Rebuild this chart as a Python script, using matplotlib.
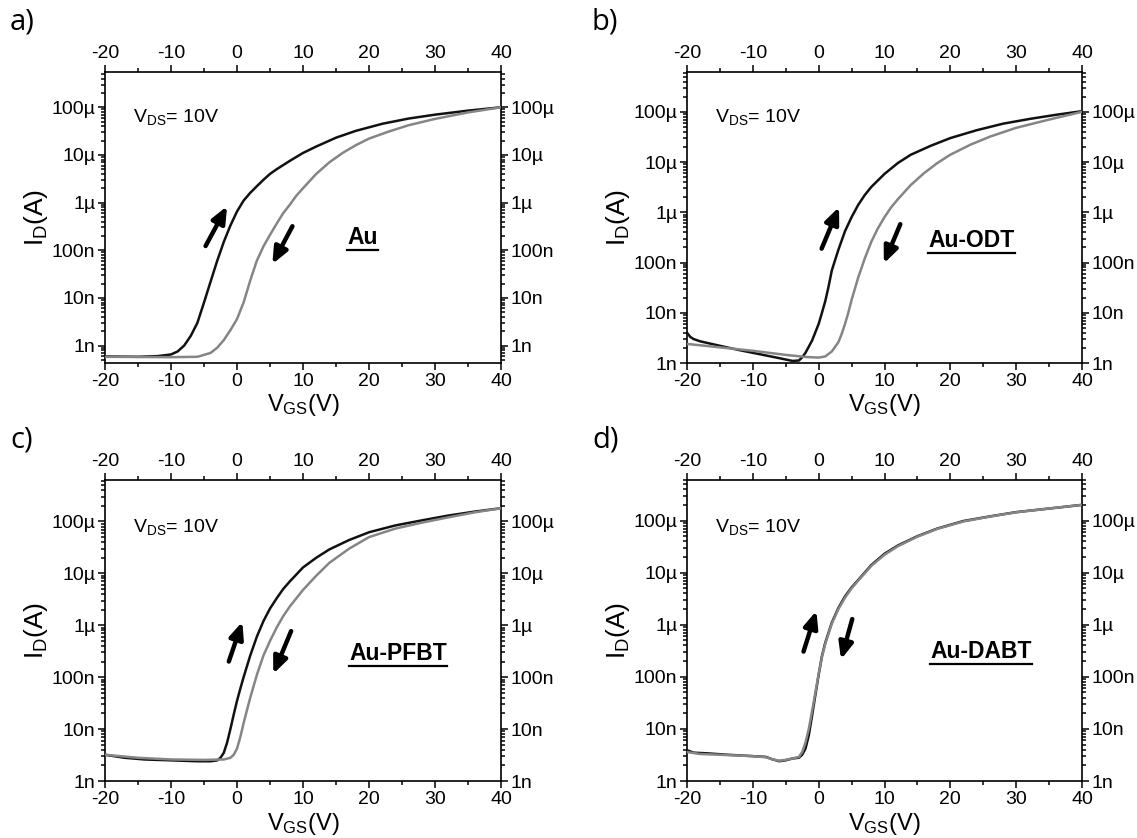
import numpy as np
import matplotlib
matplotlib.use("Agg")
import matplotlib.pyplot as plt
from matplotlib.ticker import FixedLocator, LogLocator, NullFormatter, MultipleLocator
from matplotlib.lines import Line2D

plt.rcParams['font.family'] = ['Liberation Sans', 'DejaVu Sans']
plt.rcParams['mathtext.fontset'] = 'custom'
plt.rcParams['mathtext.rm'] = 'Liberation Sans'
plt.rcParams['mathtext.it'] = 'Liberation Sans:italic'
plt.rcParams['mathtext.bf'] = 'Liberation Sans:bold'

# ---------------- data ----------------
# Panel a) Au : forward (black) and reverse (gray) sweeps
a_fwd_v = [-20, -15, -12, -10, -9, -8, -7, -6, -5, -4, -3, -2, -1, 0, 1, 2, 3, 4, 5, 6, 8, 10, 12, 15, 18, 22,
           26, 30, 35, 40]
a_fwd_i = [5.9e-10, 5.8e-10, 6.0e-10, 6.5e-10, 7.5e-10, 1.0e-9, 1.6e-9, 3.0e-9, 8.0e-9, 2.2e-8, 6.0e-8, 1.5e-7,
           3.3e-7, 6.5e-7, 1.1e-6, 1.6e-6, 2.2e-6, 3.0e-6, 4.0e-6, 5.0e-6, 7.5e-6, 1.1e-5, 1.5e-5, 2.3e-5,
           3.2e-5, 4.5e-5, 5.8e-5, 7.0e-5, 8.5e-5, 1.0e-4]
a_rev_v = [-20, -10, -6, -4, -3, -2, -1, 0, 1, 2, 3, 4, 5, 6, 7, 8, 9, 10, 12, 14, 16, 18, 20, 23, 26, 30,
           35, 40]
a_rev_i = [5.8e-10, 5.7e-10, 5.8e-10, 7.0e-10, 9.0e-10, 1.3e-9, 2.1e-9, 3.6e-9, 8.0e-9, 2.3e-8, 6.0e-8, 1.2e-7,
           2.1e-7, 3.6e-7, 6.0e-7, 9.0e-7, 1.4e-6, 2.0e-6, 4.0e-6, 7.0e-6, 1.1e-5, 1.6e-5, 2.2e-5, 3.1e-5,
           4.2e-5, 5.7e-5, 7.8e-5, 1.0e-4]

# Panel b) Au-ODT
b_fwd_v = [-20, -19.5, -19, -18, -15, -12, -9, -6, -4, -3, -2.5, -2, -1, 0, 0.5, 1, 1.5, 2, 3, 4, 5, 6, 7, 8,
           10, 12, 14, 17, 20, 24, 28, 32, 36, 40]
b_fwd_i = [4.0e-9, 3.3e-9, 3.0e-9, 2.7e-9, 2.2e-9, 1.8e-9, 1.5e-9, 1.25e-9, 1.1e-9, 1.12e-9, 1.3e-9, 1.6e-9,
           2.8e-9, 6.0e-9, 1.0e-8, 1.7e-8, 3.3e-8, 7.0e-8, 1.8e-7, 4.2e-7, 8.0e-7, 1.4e-6, 2.2e-6, 3.2e-6,
           5.8e-6, 9.5e-6, 1.4e-5, 2.1e-5, 3.0e-5, 4.3e-5, 5.8e-5, 7.2e-5, 8.7e-5, 1.03e-4]
b_rev_v = [-20, -15, -10, -5, -2, 0, 1, 2, 3, 3.5, 4, 4.5, 5, 5.5, 6, 7, 8, 9, 10, 11, 12, 14, 16, 18, 20, 23,
           26, 30, 35, 40]
b_rev_i = [2.4e-9, 2.05e-9, 1.75e-9, 1.45e-9, 1.32e-9, 1.28e-9, 1.35e-9, 1.7e-9, 2.6e-9, 3.8e-9, 6.0e-9, 1.0e-8,
           1.8e-8, 3.0e-8, 5.0e-8, 1.2e-7, 2.6e-7, 4.8e-7, 8.0e-7, 1.25e-6, 1.8e-6, 3.5e-6, 6.0e-6, 9.5e-6,
           1.4e-5, 2.2e-5, 3.2e-5, 4.8e-5, 7.0e-5, 1.0e-4]

# Panel c) Au-PFBT
c_fwd_v = [-20, -17, -14, -10, -6, -4, -3, -2.5, -2, -1.5, -1, -0.5, 0, 0.5, 1, 2, 3, 4, 5, 6, 7, 8, 10, 12,
           14, 17, 20, 24, 28, 32, 36, 40]
c_fwd_i = [3.2e-9, 2.8e-9, 2.6e-9, 2.5e-9, 2.4e-9, 2.4e-9, 2.5e-9, 2.8e-9, 3.5e-9, 5.5e-9, 1.0e-8, 1.9e-8,
           3.5e-8, 6.0e-8, 1.0e-7, 2.6e-7, 6.0e-7, 1.2e-6, 2.1e-6, 3.3e-6, 5.0e-6, 7.0e-6, 1.3e-5, 2.0e-5,
           2.9e-5, 4.4e-5, 6.2e-5, 8.4e-5, 1.05e-4, 1.3e-4, 1.55e-4, 1.8e-4]
c_rev_v = [-20, -15, -10, -5, -2, -1, -0.5, 0, 0.5, 1, 1.5, 2, 3, 4, 5, 6, 7, 8, 10, 12, 14, 17, 20, 24, 28,
           32, 36, 40]
c_rev_i = [3.2e-9, 2.8e-9, 2.6e-9, 2.55e-9, 2.6e-9, 2.8e-9, 3.2e-9, 4.2e-9, 7.0e-9, 1.3e-8, 2.3e-8, 4.0e-8,
           1.1e-7, 2.6e-7, 5.0e-7, 9.0e-7, 1.5e-6, 2.3e-6, 4.8e-6, 9.0e-6, 1.6e-5, 3.0e-5, 5.0e-5, 7.3e-5,
           9.5e-5, 1.2e-4, 1.5e-4, 1.8e-4]

# Panel d) Au-DABT
d_fwd_v = [-20, -19, -17, -14, -10, -8, -7, -6, -5, -4, -3, -2.5, -2, -1.5, -1, -0.5, 0, 0.5, 1, 2, 3, 4, 5,
           6, 8, 10, 12, 15, 18, 22, 26, 30, 35, 40]
d_fwd_i = [3.9e-9, 3.5e-9, 3.4e-9, 3.2e-9, 3.0e-9, 2.9e-9, 2.6e-9, 2.4e-9, 2.5e-9, 2.7e-9, 2.8e-9, 3.2e-9,
           4.2e-9, 7.5e-9, 1.8e-8, 4.5e-8, 1.1e-7, 2.5e-7, 4.5e-7, 1.1e-6, 2.1e-6, 3.5e-6, 5.2e-6, 7.2e-6,
           1.4e-5, 2.3e-5, 3.3e-5, 5.0e-5, 7.0e-5, 9.8e-5, 1.2e-4, 1.45e-4, 1.7e-4, 2.0e-4]
d_rev_v = [-20, -18, -14, -10, -8, -7, -6, -5, -4, -3, -2.5, -2, -1.5, -1, -0.5, 0, 0.5, 1, 2, 3, 4, 5, 6, 8,
           10, 12, 15, 18, 22, 26, 30, 35, 40]
d_rev_i = [3.6e-9, 3.3e-9, 3.15e-9, 3.0e-9, 2.85e-9, 2.6e-9, 2.45e-9, 2.55e-9, 2.7e-9, 2.9e-9, 3.6e-9, 5.5e-9,
           1.0e-8, 2.2e-8, 5.0e-8, 1.15e-7, 2.4e-7, 4.3e-7, 1.05e-6, 2.0e-6, 3.3e-6, 5.0e-6, 7.0e-6, 1.35e-5,
           2.2e-5, 3.2e-5, 4.9e-5, 6.9e-5, 9.6e-5, 1.19e-4, 1.44e-4, 1.7e-4, 2.0e-4]

panel_letters = ['a)', 'b)', 'c)', 'd)']
sample_names = ['Au', 'Au-ODT', 'Au-PFBT', 'Au-DABT']
x_ticks = [-20, -10, 0, 10, 20, 30, 40]
y_ticks = [1e-9, 1e-8, 1e-7, 1e-6, 1e-5, 1e-4]
y_tick_labels = ['1n', '10n', '100n', '1µ', '10µ', '100µ']

panels = [
    dict(fwd=(a_fwd_v, a_fwd_i), rev=(a_rev_v, a_rev_i), ylim=(4.3e-10, 5.5e-4),
         up=((-4.76, 0.402), (-1.5, 0.539)), down=((8.4, 0.47), (5.35, 0.34)), name_pos=(0.65, 0.43)),
    dict(fwd=(b_fwd_v, b_fwd_i), rev=(b_rev_v, b_rev_i), ylim=(1e-9, 6.2e-4),
         up=((0.45, 0.393), (3.1, 0.536)), down=((12.4, 0.477), (9.9, 0.342)), name_pos=(0.72, 0.42)),
    dict(fwd=(c_fwd_v, c_fwd_i), rev=(c_rev_v, c_rev_i), ylim=(1e-9, 6.3e-4),
         up=((-1.24, 0.397), (0.81, 0.529)), down=((8.2, 0.498), (5.5, 0.356)), name_pos=(0.74, 0.425)),
    dict(fwd=(d_fwd_v, d_fwd_i), rev=(d_rev_v, d_rev_i), ylim=(1e-9, 6.0e-4),
         up=((-2.3, 0.43), (-0.35, 0.565)), down=((5.1, 0.538), (3.4, 0.404)), name_pos=(0.744, 0.43)),
]

W, H = 1137, 838
fig = plt.figure(figsize=(W / 100, H / 100), dpi=100)

boxes = [(105, 72, 501, 363), (687, 72, 1082, 363), (105, 480, 501, 781), (687, 480, 1082, 781)]
letter_pos = [(10, 22), (592, 22), (10, 440), (592, 440)]

tick_fs = 14
name_texts = []
for k, p in enumerate(panels):
    l, t, r, b = boxes[k]
    ax = fig.add_axes([l / W, 1 - b / H, (r - l) / W, (b - t) / H])
    ax.set_yscale('log')
    ax.plot(*p['fwd'], color='#111111', lw=1.8, zorder=3)
    ax.plot(*p['rev'], color='#858585', lw=1.8, zorder=3 if k < 3 else 4)
    ax.set_xlim(-20, 40)
    ax.set_ylim(*p['ylim'])
    ax.xaxis.set_major_locator(FixedLocator(x_ticks))
    ax.xaxis.set_minor_locator(MultipleLocator(5))
    ax.yaxis.set_major_locator(FixedLocator(y_ticks))
    ax.set_yticklabels(y_tick_labels)
    ax.set_xticklabels([str(v) for v in x_ticks])
    ax.yaxis.set_minor_locator(LogLocator(base=10, subs=np.arange(2, 10)))
    ax.yaxis.set_minor_formatter(NullFormatter())
    ax.tick_params(which='both', direction='out', top=True, right=True,
                   labeltop=True, labelright=True, labelsize=tick_fs, width=1.1, pad=2)
    ax.tick_params(which='major', length=5)
    ax.tick_params(which='minor', length=3)
    for s in ax.spines.values():
        s.set_linewidth(1.2)
    ax.set_xlabel(r'V$_{\mathrm{GS}}$(V)', fontsize=17, labelpad=2)
    ax.set_ylabel(r'I$_{\mathrm{D}}$(A)', fontsize=19, labelpad=1)
    ax.text(0.07, 0.845, r'V$_{\mathrm{DS}}$= 10V', transform=ax.transAxes, fontsize=14,
            ha='left', va='center')
    nt = ax.text(p['name_pos'][0], p['name_pos'][1], sample_names[k], transform=ax.transAxes,
                 fontsize=16.5, fontweight='bold', ha='center', va='center')
    name_texts.append((ax, nt))
    for (s, e) in (p['up'], p['down']):
        ax.annotate('', xy=e, xytext=s, xycoords=('data', 'axes fraction'),
                    textcoords=('data', 'axes fraction'),
                    arrowprops=dict(arrowstyle='-|>,head_length=0.7,head_width=0.3', lw=3.2,
                                    color='black', shrinkA=0, shrinkB=0, mutation_scale=14))
    lx, ly = letter_pos[k]
    fig.text(lx / W, 1 - ly / H, panel_letters[k], fontsize=21, ha='left', va='center',
             family=['Open Sans', 'DejaVu Sans'])

fig.canvas.draw()
rend = fig.canvas.get_renderer()
for ax, nt in name_texts:
    bb = nt.get_window_extent(rend)
    y = bb.y0 - 1
    fig.add_artist(Line2D([bb.x0 / W, bb.x1 / W], [y / H, y / H], transform=fig.transFigure,
                          color='black', lw=1.6))

fig.savefig('out.png', dpi=100)
